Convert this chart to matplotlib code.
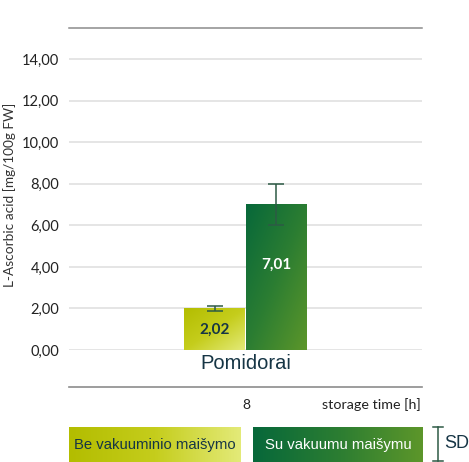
import matplotlib
matplotlib.use('Agg')
import matplotlib.pyplot as plt
import numpy as np
from matplotlib.colors import LinearSegmentedColormap
from matplotlib.lines import Line2D

# ----------------------------- DATOS -----------------------------
categoria = ['Pomidorai']
series = ['Be vakuuminio maišymo', 'Su vakuumu maišymu']
valores = [2.02, 7.01]
sd = [0.12, 0.99]
etiquetas = ['2,02', '7,01']
yticks = [0, 2, 4, 6, 8, 10, 12, 14]
ytick_labels = ['0,00', '2,00', '4,00', '6,00', '8,00', '10,00', '12,00', '14,00']
tiempo = '8'

cmap_amarillo = LinearSegmentedColormap.from_list('am', ['#b3bd00', '#c5cd1c', '#e3ea78'])
cmap_verde = LinearSegmentedColormap.from_list('ve', ['#07683a', '#2b7d32', '#5c962a'])
color_texto = '#163545'

W, H = 469, 462
fig = plt.figure(figsize=(W / 100, H / 100), dpi=100)

def fx(px):
    return px / W

def fy(py):
    return 1 - py / H

ax = fig.add_axes([fx(69), fy(350), fx(422) - fx(69), fy(28) - fy(350)])
ax.set_xlim(-0.5, 0.5)
ax.set_ylim(0, 15.5)

# grid
for t in yticks:
    ax.axhline(t, color='#dedede', linewidth=1.1, zorder=0)

ancho = 0.172
pos = [-0.087, 0.087]
cmaps = [cmap_amarillo, cmap_verde]
colores_lbl = [color_texto, 'white']

xx, yy = np.meshgrid(np.linspace(0, 1, 100), np.linspace(0, 1, 100))
grad = (xx + (1 - yy)) / 2

for i in range(len(valores)):
    barra = ax.bar(pos[i], valores[i], width=ancho, color='none', zorder=2)[0]
    im = ax.imshow(grad, cmap=cmaps[i], origin='lower', aspect='auto',
                   extent=[pos[i] - ancho / 2, pos[i] + ancho / 2, 0, valores[i]], zorder=2)
    im.set_clip_path(barra)
    ax.errorbar(pos[i], valores[i], yerr=sd[i], fmt='none', ecolor='#2d5a45',
                elinewidth=1.1, capsize=5.5, capthick=1.1, zorder=3)

ax.text(pos[0], valores[0] / 2 - 0.05, etiquetas[0], ha='center', va='center',
        fontsize=11, fontweight='bold', color=colores_lbl[0], family='Lato', zorder=4)
ax.text(pos[1], 4.1, etiquetas[1], ha='center', va='center',
        fontsize=11, fontweight='bold', color=colores_lbl[1], family='Lato', zorder=4)

ax.set_xticks([0])
ax.set_xticklabels(categoria, fontsize=14.5, color=color_texto, family='Liberation Sans')
ax.tick_params(axis='x', length=0, pad=3)
ax.set_yticks(yticks)
ax.set_yticklabels(ytick_labels, fontsize=10.5, color='#222222', family='Lato')
ax.tick_params(axis='y', length=0, pad=7)
for s in ['left', 'right', 'bottom']:
    ax.spines[s].set_visible(False)
ax.spines['top'].set_color('#8c8c8c')
ax.spines['top'].set_linewidth(1.1)

fig.text(fx(10), fy(195), 'L-Ascorbic acid [mg/100g FW]', rotation=90, ha='center', va='center',
         fontsize=9.8, color='#333333', family='Lato')

# linea inferior y eje de tiempo
fig.add_artist(Line2D([fx(69), fx(422)], [fy(387), fy(387)], color='#8c8c8c', linewidth=1.2))
fig.text(fx(246), fy(405), tiempo, ha='center', va='center', fontsize=10, color='#222222', family='Lato')
fig.text(fx(421), fy(405), 'storage time [h]', ha='right', va='center', fontsize=10.3,
         color='#222222', family='Lato')

# leyenda
cajas = [(69, 240), (253, 423)]
h_grad = np.linspace(0, 1, 100).reshape(1, -1)
for i in range(len(series)):
    x0, x1 = cajas[i]
    lax = fig.add_axes([fx(x0), 0, fx(x1) - fx(x0), fy(427)])
    lax.imshow(h_grad, cmap=cmaps[i], aspect='auto', extent=[0, 1, 0, 1])
    lax.set_xlim(0, 1)
    lax.set_ylim(0, 1)
    lax.axis('off')
    lax.text(0.5, 0.5, series[i], ha='center', va='center', fontsize=10.7,
             color=colores_lbl[i], family='Liberation Sans')

# simbolo SD
fig.add_artist(Line2D([fx(438), fx(438)], [fy(427), fy(461)], color='#2d5a45', linewidth=1.1))
fig.add_artist(Line2D([fx(433), fx(443)], [fy(427), fy(427)], color='#2d5a45', linewidth=1.1))
fig.add_artist(Line2D([fx(433), fx(443)], [fy(461), fy(461)], color='#2d5a45', linewidth=1.1))
fig.text(fx(444), fy(444), 'SD', ha='left', va='center', fontsize=13, color=color_texto,
         family='Liberation Sans')

fig.savefig('out.png', dpi=100)
